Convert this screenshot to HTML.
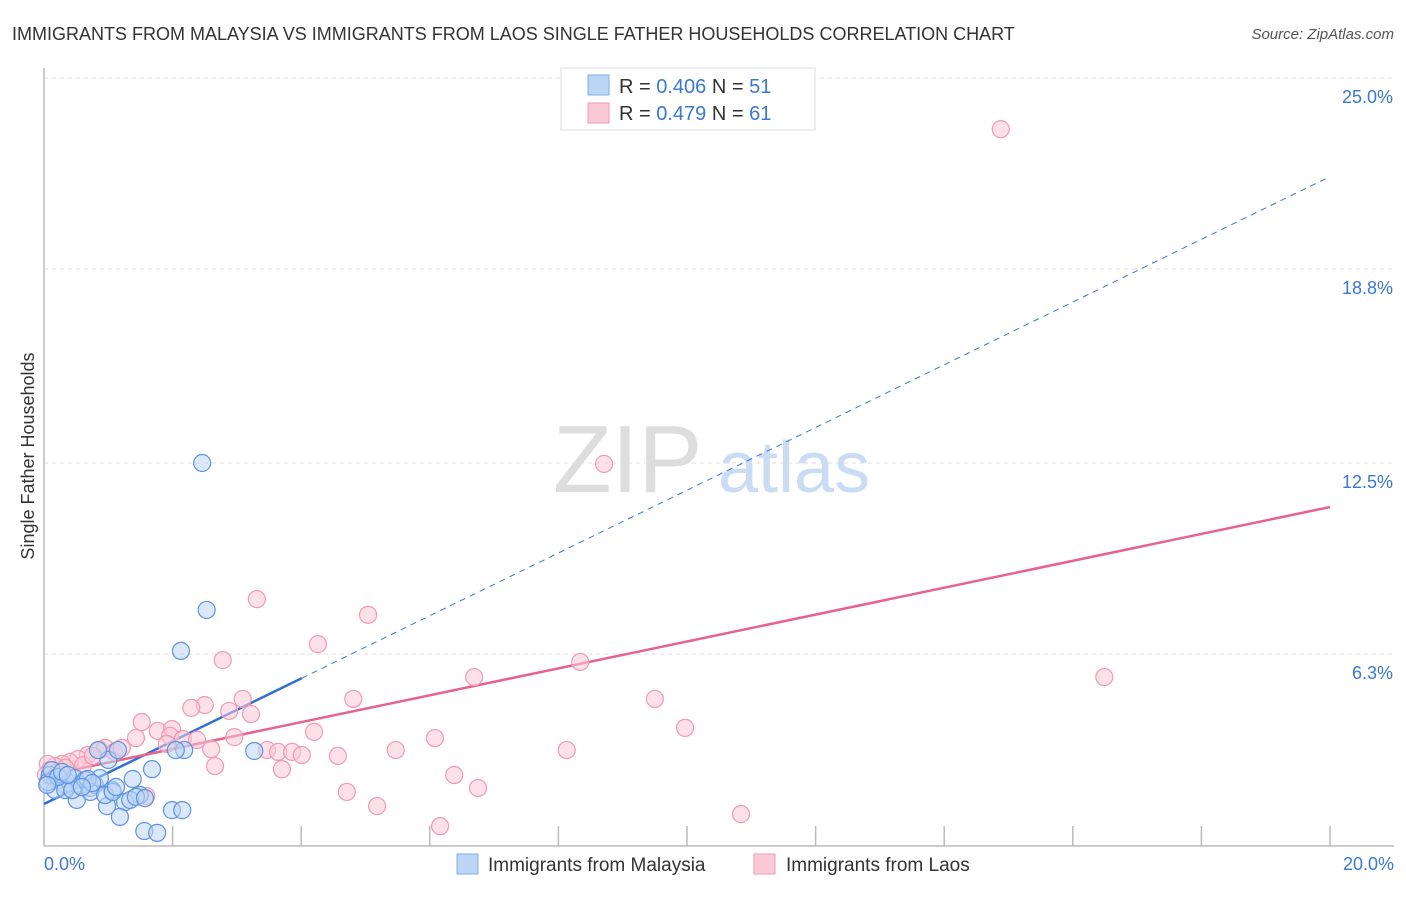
<!DOCTYPE html>
<html><head><meta charset="utf-8"><style>
body{margin:0;background:#fff;font-family:"Liberation Sans",sans-serif;}
svg text{font-family:"Liberation Sans",sans-serif;}
</style></head><body>
<svg id="chart" width="1406" height="892" xmlns="http://www.w3.org/2000/svg">
<text x="12" y="40" font-size="18" fill="#333">IMMIGRANTS FROM MALAYSIA VS IMMIGRANTS FROM LAOS SINGLE FATHER HOUSEHOLDS CORRELATION CHART</text>
<text x="1394" y="39" font-size="15" fill="#555" font-style="italic" text-anchor="end">Source: ZipAtlas.com</text>
<g>
<text x="553" y="492" font-size="96" fill="#ddd" font-family="Liberation Serif">ZIP</text>
<text x="718" y="492" font-size="72" fill="#c9dcf3">atlas</text>
</g>
<g id="grid"></g>
<g id="axes"></g>
<g id="lines"></g>
<g id="pts"></g>
<text transform="translate(34,456) rotate(-90)" font-size="18" fill="#333" text-anchor="middle">Single Father Households</text>
<text x="44" y="870" font-size="18" fill="#3a78d4">0.0%</text>
<text x="1394" y="870" font-size="18" fill="#3a78d4" text-anchor="end">20.0%</text>
<g>
<rect x="561" y="68" width="254" height="62" fill="#fff" stroke="#ddd"/>
<rect x="588" y="75" width="21" height="20" fill="#bcd5f5" stroke="#7eaee8"/>
<rect x="588" y="103" width="21" height="20" fill="#fac8d6" stroke="#f09ab4"/>
<text x="619" y="93" font-size="20" fill="#333">R = <tspan fill="#3a78d4">0.406</tspan>   N = <tspan fill="#3a78d4">51</tspan></text>
<text x="619" y="120" font-size="20" fill="#333">R =  <tspan fill="#3a78d4">0.479</tspan>   N = <tspan fill="#3a78d4">61</tspan></text>
</g>
<g>
<rect x="457" y="854" width="21" height="20" fill="#bcd5f5" stroke="#7eaee8"/>
<text x="488" y="871" font-size="19" fill="#333">Immigrants from Malaysia</text>
<rect x="754" y="854" width="21" height="20" fill="#fac8d6" stroke="#f09ab4"/>
<text x="786" y="871" font-size="19" fill="#333">Immigrants from Laos</text>
</g>
</svg>
<script>
const yTicks=[25.0,18.8,12.5,6.3];
const yTickLabels=["25.0%","18.8%","12.5%","6.3%"];
const xTicks=[2,4,6,8,10,12,14,16,18,20];
const malaysiaX=[2.46,2.53,2.13,1.68,2.18,2.05,3.27,1.00,0.84,1.15,1.38,1.49,1.06,1.26,0.98,1.18,0.51,1.99,2.15,1.56,1.76,0.09,0.17,0.25,0.33,0.40,0.48,0.56,0.64,0.72,0.79,0.87,0.17,0.33,0.72,0.06,0.12,0.22,0.28,0.44,0.68,0.75,0.95,1.07,1.34,1.43,1.57,1.12,0.37,0.59,0.05];
const malaysiaY=[12.50,7.73,6.40,2.56,3.18,3.18,3.15,2.86,3.18,3.18,2.24,1.72,1.88,1.49,1.36,1.01,1.56,1.23,1.23,0.55,0.49,2.37,2.27,2.21,2.05,2.11,2.27,2.05,2.21,1.95,2.05,2.27,1.88,1.88,1.82,2.14,2.53,2.31,2.47,1.88,2.24,2.11,1.72,1.82,1.56,1.66,1.62,1.98,2.37,1.98,2.05];
const laosX=[14.88,8.71,3.31,5.04,4.26,2.78,8.34,6.69,16.49,3.09,4.81,9.50,2.50,2.29,2.88,3.22,1.52,1.77,1.99,9.97,4.20,1.43,1.96,2.96,6.08,2.16,2.38,1.91,2.60,3.47,3.64,3.86,4.01,5.47,8.13,4.57,2.66,3.70,6.38,6.75,4.71,5.18,10.84,6.16,1.59,0.87,0.95,1.10,1.21,0.68,0.53,0.40,0.28,0.17,0.06,0.09,0.22,0.33,0.61,0.76,0.03];
const laosY=[23.34,12.47,8.08,7.57,6.62,6.10,6.04,5.55,5.55,4.84,4.84,4.84,4.64,4.55,4.45,4.35,4.09,3.80,3.86,3.90,3.77,3.57,3.64,3.60,3.57,3.54,3.51,3.38,3.21,3.18,3.12,3.12,3.02,3.18,3.18,2.99,2.66,2.56,2.37,1.95,1.82,1.36,1.10,0.71,1.69,3.18,3.25,3.12,3.25,3.02,2.89,2.79,2.73,2.66,2.73,2.53,2.47,2.60,2.69,2.99,2.37];
const malaysiaTrend=[1.43,21.8];
const malaysiaSolidEnd=4.01;
const laosTrend=[2.34,11.07];

const X0=44,X1=1330,Y0=848,Y1=78;
const sx=v=>X0+(X1-X0)*v/20;
const sy=v=>Y0-(Y0-Y1)*v/25;
const NS="http://www.w3.org/2000/svg";
function mk(tag,attrs,parent){const e=document.createElementNS(NS,tag);for(const k in attrs)e.setAttribute(k,attrs[k]);parent.appendChild(e);return e;}
const grid=document.getElementById('grid'),axes=document.getElementById('axes'),lines=document.getElementById('lines'),pts=document.getElementById('pts');
yTicks.forEach((t,i)=>{
  const l=mk('line',{x1:X0,x2:1394,y1:sy(t),y2:sy(t),stroke:'#ddd','stroke-dasharray':'4,4'},grid);
  
  
  const tx=mk('text',{x:1393,y:sy(t)+25,'font-size':18,fill:'#3a78d4','text-anchor':'end'},grid);
  tx.textContent=yTickLabels[i];
  
  
});
const ya=mk('line',{x1:X0,x2:X0,y1:68,y2:846,stroke:'#bbb','stroke-width':1.5},axes);


const xa=mk('line',{x1:X0,x2:1394,y1:846,y2:846,stroke:'#bbb','stroke-width':1.5},axes);


xTicks.forEach(t=>{
  const l=mk('line',{x1:sx(t),x2:sx(t),y1:826,y2:846,stroke:'#bbb','stroke-width':1.5},axes);
  
  
});
function dot(x,y,fill,stroke,name){
  const c=mk('circle',{cx:sx(x),cy:sy(y),r:8.5,fill:fill,'fill-opacity':0.55,stroke:stroke,'stroke-width':1.2},pts);
  
  
}
laosX.forEach((x,i)=>dot(x,laosY[i],'#fac8d6','#f09ab4','laos-point'));
malaysiaX.forEach((x,i)=>dot(x,malaysiaY[i],'#bcd5f5','#5b93e0','malaysia-point'));
const mT=v=>malaysiaTrend[0]+(malaysiaTrend[1]-malaysiaTrend[0])*v/20;
const lT=v=>laosTrend[0]+(laosTrend[1]-laosTrend[0])*v/20;
const md=mk('line',{x1:sx(malaysiaSolidEnd),y1:sy(mT(malaysiaSolidEnd)),x2:sx(20),y2:sy(mT(20)),stroke:'#3a78d4','stroke-width':1,'stroke-dasharray':'6,5'},lines);


const ms=mk('line',{x1:sx(0),y1:sy(mT(0)),x2:sx(malaysiaSolidEnd),y2:sy(mT(malaysiaSolidEnd)),stroke:'#2f6fd6','stroke-width':2.5},lines);


const ll=mk('line',{x1:sx(0),y1:sy(lT(0)),x2:sx(20),y2:sy(lT(20)),stroke:'#e8628e','stroke-width':2.5},lines);


</script>
</body></html>
